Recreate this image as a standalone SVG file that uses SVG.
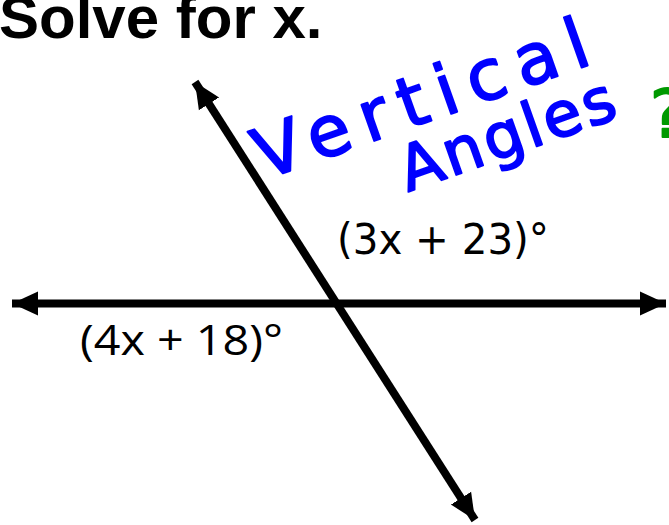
<svg xmlns="http://www.w3.org/2000/svg" width="669" height="525" viewBox="0 0 669 525">
<style>
.title{font-family:"Liberation Sans",Arial,sans-serif;font-weight:bold;font-size:60px;fill:#000}
.lbl{font-family:"DejaVu Sans",sans-serif;font-size:42px;fill:#000}
.lbl2{font-family:"Open Sans",sans-serif;font-size:42px;fill:#000}
.hand{font-family:"DejaVu Sans",sans-serif;fill:#0000ff;stroke:#0000ff;stroke-width:2;stroke-linejoin:round}
.q{font-family:"DejaVu Sans",sans-serif;font-size:66px;fill:#009900;stroke:#009900;stroke-width:2;stroke-linejoin:round}
.ln{stroke:#000;stroke-width:8;fill:none}
</style>
<defs>
<marker id="ah" markerUnits="userSpaceOnUse" markerWidth="28" markerHeight="26" refX="26" refY="13" orient="auto-start-reverse" viewBox="0 0 28 26">
<path d="M0,1 L26,13 L0,25 Z" fill="#000"/>
</marker>
</defs>
<text class="title" x="-1" y="38">Solve for x.</text>
<g id="connectors">
<line class="ln" x1="12" y1="303.5" x2="666" y2="303.5" marker-start="url(#ah)" marker-end="url(#ah)"/>
<line class="ln" x1="195" y1="82" x2="475" y2="520" marker-start="url(#ah)" marker-end="url(#ah)"/>
</g>
<g id="label-top"><text class="lbl" x="337" y="254" textLength="212" lengthAdjust="spacingAndGlyphs">(3x + 23)°</text></g>
<g id="label-bottom"><text class="lbl2" x="80" y="355" textLength="203" lengthAdjust="spacingAndGlyphs">(4x + 18)°</text></g>
<g id="note">
<text class="hand" font-size="70" transform="translate(264,180) rotate(-19.5)" textLength="350" lengthAdjust="spacing">Vertical</text>
<text class="hand" font-size="62" transform="translate(408,192) rotate(-19.5)" textLength="225" lengthAdjust="spacing">Angles</text>
<text class="q" x="650" y="137">?</text>
</g>
</svg>
